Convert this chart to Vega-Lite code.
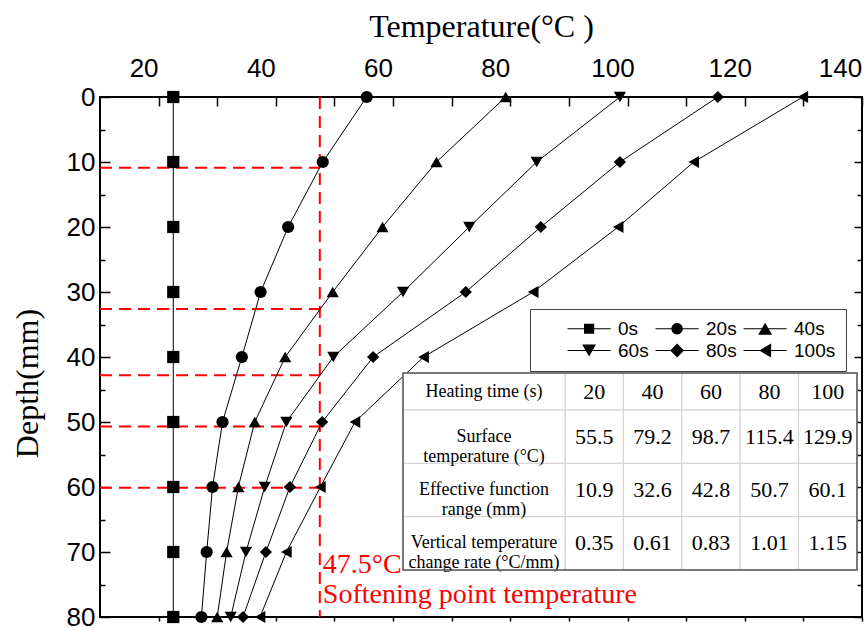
{
  "$schema": "https://vega.github.io/schema/vega-lite/v6.json",
  "width": 762,
  "height": 520,
  "autosize": {"type": "none"},
  "padding": {"left": 100, "top": 97, "right": 2, "bottom": 11},
  "background": "white",
  "config": {
    "view": {"stroke": "black", "strokeWidth": 2},
    "axis": {"grid": false}
  },
  "datasets": {
    "profiles": [
      {"time": "0s", "depth": 0, "T": 22.5}, {"time": "0s", "depth": 10, "T": 22.5}, {"time": "0s", "depth": 20, "T": 22.5},
      {"time": "0s", "depth": 30, "T": 22.5}, {"time": "0s", "depth": 40, "T": 22.5}, {"time": "0s", "depth": 50, "T": 22.5},
      {"time": "0s", "depth": 60, "T": 22.5}, {"time": "0s", "depth": 70, "T": 22.5}, {"time": "0s", "depth": 80, "T": 22.5},
      {"time": "20s", "depth": 0, "T": 55.5}, {"time": "20s", "depth": 10, "T": 48.0}, {"time": "20s", "depth": 20, "T": 42.1},
      {"time": "20s", "depth": 30, "T": 37.4}, {"time": "20s", "depth": 40, "T": 34.2}, {"time": "20s", "depth": 50, "T": 30.9},
      {"time": "20s", "depth": 60, "T": 29.2}, {"time": "20s", "depth": 70, "T": 28.2}, {"time": "20s", "depth": 80, "T": 27.3},
      {"time": "40s", "depth": 0, "T": 79.2}, {"time": "40s", "depth": 10, "T": 67.4}, {"time": "40s", "depth": 20, "T": 58.2},
      {"time": "40s", "depth": 30, "T": 49.7}, {"time": "40s", "depth": 40, "T": 41.6}, {"time": "40s", "depth": 50, "T": 36.4},
      {"time": "40s", "depth": 60, "T": 33.6}, {"time": "40s", "depth": 70, "T": 31.6}, {"time": "40s", "depth": 80, "T": 30.0},
      {"time": "60s", "depth": 0, "T": 98.7}, {"time": "60s", "depth": 10, "T": 84.5}, {"time": "60s", "depth": 20, "T": 73.0},
      {"time": "60s", "depth": 30, "T": 61.7}, {"time": "60s", "depth": 40, "T": 49.8}, {"time": "60s", "depth": 50, "T": 41.8},
      {"time": "60s", "depth": 60, "T": 38.1}, {"time": "60s", "depth": 70, "T": 34.9}, {"time": "60s", "depth": 80, "T": 32.3},
      {"time": "80s", "depth": 0, "T": 115.4}, {"time": "80s", "depth": 10, "T": 98.7}, {"time": "80s", "depth": 20, "T": 85.2},
      {"time": "80s", "depth": 30, "T": 72.4}, {"time": "80s", "depth": 40, "T": 56.6}, {"time": "80s", "depth": 50, "T": 47.9},
      {"time": "80s", "depth": 60, "T": 42.4}, {"time": "80s", "depth": 70, "T": 38.3}, {"time": "80s", "depth": 80, "T": 34.4},
      {"time": "100s", "depth": 0, "T": 129.9}, {"time": "100s", "depth": 10, "T": 111.3}, {"time": "100s", "depth": 20, "T": 98.4},
      {"time": "100s", "depth": 30, "T": 83.9}, {"time": "100s", "depth": 40, "T": 65.2}, {"time": "100s", "depth": 50, "T": 53.5},
      {"time": "100s", "depth": 60, "T": 47.6}, {"time": "100s", "depth": 70, "T": 41.8}, {"time": "100s", "depth": 80, "T": 37.3}
    ],
    "summary": [
      {"time": 20, "surface": 55.5, "range": 10.9, "rate": 0.35},
      {"time": 40, "surface": 79.2, "range": 32.6, "rate": 0.61},
      {"time": 60, "surface": 98.7, "range": 42.8, "rate": 0.83},
      {"time": 80, "surface": 115.4, "range": 50.7, "rate": 1.01},
      {"time": 100, "surface": 129.9, "range": 60.1, "rate": 1.15}
    ],
    "softening": [
      {"T": 47.5, "label": ["47.5°C", "Softening point temperature"]}
    ],
    "rowNames": [
      {"metric": "time", "name": ["Heating time (s)"]},
      {"metric": "surface", "name": ["Surface", "temperature (°C)"]},
      {"metric": "range", "name": ["Effective function", "range (mm)"]},
      {"metric": "rate", "name": ["Vertical  temperature", "change rate (°C/mm)"]}
    ],
    "tableFrame": [
      {"left": 0, "right": 1, "top": 0, "bottom": 1}
    ]
  },
  "layer": [
    {
      "layer": [
        {
          "data": {"name": "softening"},
          "mark": {"type": "rule", "color": "#ff0000", "strokeWidth": 2, "strokeDash": [12, 7]},
          "encoding": {
            "x": {"field": "T", "type": "quantitative", "scale": {"domain": [10, 140], "nice": false, "zero": false}, "axis": null}
          }
        },
        {
          "data": {"name": "summary"},
          "mark": {"type": "rule", "color": "#ff0000", "strokeWidth": 2, "strokeDash": [12, 7]},
          "encoding": {
            "y": {"field": "range", "type": "quantitative", "scale": {"domain": [0, 80], "reverse": true, "nice": false, "zero": false}, "axis": null},
            "x": {"datum": 10, "type": "quantitative", "scale": {"domain": [10, 140], "nice": false, "zero": false}, "axis": null},
            "x2": {"datum": 47.5}
          }
        },
        {
          "data": {"name": "softening"},
          "mark": {"type": "text", "color": "#ff0000", "font": "Liberation Serif", "fontSize": 28, "align": "left", "baseline": "bottom", "dx": 3, "dy": -38, "lineHeight": 30},
          "encoding": {
            "x": {"field": "T", "type": "quantitative", "scale": {"domain": [10, 140], "nice": false, "zero": false}, "axis": null},
            "y": {"datum": 80, "type": "quantitative", "scale": {"domain": [0, 80], "reverse": true, "nice": false, "zero": false}, "axis": null},
            "text": {"field": "label"}
          }
        },
        {
          "data": {"name": "profiles"},
          "mark": {"type": "line", "color": "black", "strokeWidth": 1},
          "encoding": {
            "x": {
              "field": "T", "type": "quantitative",
              "scale": {"domain": [10, 140], "nice": false, "zero": false},
              "axis": {
                "orient": "bottom", "values": [20, 30, 40, 50, 60, 70, 80, 90, 100, 110, 120, 130, 140],
                "labels": false, "domain": false, "tickColor": "black", "tickWidth": 1.5, "tickSize": 4, "title": null
              }
            },
            "y": {
              "field": "depth", "type": "quantitative",
              "scale": {"domain": [0, 80], "reverse": true, "nice": false, "zero": false},
              "axis": {
                "orient": "right", "values": [0, 5, 10, 15, 20, 25, 30, 35, 40, 45, 50, 55, 60, 65, 70, 75, 80],
                "labels": false, "domain": false, "tickColor": "black", "tickWidth": 1.5,
                "tickSize": {"condition": {"test": "datum.value % 10 !== 0", "value": -5}, "value": -8},
                "title": null
              }
            },
            "detail": {"field": "time"},
            "order": {"field": "depth", "type": "quantitative"}
          }
        },
        {
          "data": {"name": "profiles"},
          "mark": {"type": "point", "filled": true, "color": "black", "size": 150, "opacity": 1, "strokeWidth": 0},
          "encoding": {
            "x": {
              "field": "T", "type": "quantitative",
              "scale": {"domain": [10, 140], "nice": false, "zero": false},
              "axis": {
                "orient": "top", "values": [20, 30, 40, 50, 60, 70, 80, 90, 100, 110, 120, 130, 140],
                "labelExpr": "datum.value % 20 === 0 ? datum.label : ''",
                "domain": false, "tickColor": "black", "tickWidth": 1.5, "tickSize": -9,
                "labelFont": "Liberation Sans", "labelFontSize": 26, "labelColor": "black",
                "labelPadding": 25,
                "labelOffset": {"condition": {"test": "datum.value === 140", "value": -22}, "value": -15},
                "labelFlush": false, "labelOverlap": false,
                "title": "Temperature(°C )", "titleFont": "Liberation Serif", "titleFontSize": 32,
                "titleFontWeight": "normal", "titleColor": "black", "titleY": -54
              }
            },
            "y": {
              "field": "depth", "type": "quantitative",
              "scale": {"domain": [0, 80], "reverse": true, "nice": false, "zero": false},
              "axis": {
                "orient": "left", "values": [0, 5, 10, 15, 20, 25, 30, 35, 40, 45, 50, 55, 60, 65, 70, 75, 80],
                "labelExpr": "datum.value % 10 === 0 ? datum.label : ''",
                "domain": false, "tickColor": "black", "tickWidth": 1.5,
                "tickSize": {"condition": {"test": "datum.value % 10 !== 0", "value": -5}, "value": -10},
                "labelFont": "Liberation Sans", "labelFontSize": 26, "labelColor": "black",
                "labelPadding": 15, "labelOverlap": false, "labelFlush": false,
                "title": "Depth(mm)", "titleFont": "Liberation Serif", "titleFontSize": 32,
                "titleFontWeight": "normal", "titleColor": "black",
                "titleX": -73, "titleY": 286, "titleAngle": -90, "titleAlign": "center", "titleBaseline": "middle"
              }
            },
            "shape": {
              "field": "time", "type": "nominal",
              "scale": {
                "domain": ["0s", "20s", "40s", "60s", "80s", "100s"],
                "range": ["square", "circle", "triangle-up", "triangle-down", "diamond", "triangle-left"]
              },
              "legend": null
            }
          }
        },
        {
          "data": {"name": "profiles"},
          "transform": [{"filter": "false"}],
          "mark": {"type": "point", "filled": true, "color": "black", "opacity": 1, "strokeWidth": 0},
          "encoding": {
            "x": {"field": "T", "type": "quantitative", "scale": {"domain": [10, 140], "nice": false, "zero": false}, "axis": null},
            "y": {"field": "depth", "type": "quantitative", "scale": {"domain": [0, 80], "reverse": true, "nice": false, "zero": false}, "axis": null},
            "shape": {
              "field": "time", "type": "nominal",
              "scale": {
                "domain": ["0s", "20s", "40s", "60s", "80s", "100s"],
                "range": [
                  "M-1,-0.09H6.2V0.09H-1Z M1.75,-0.85H3.45V0.85H1.75Z",
                  "M-1,-0.09H6.2V0.09H-1Z M3.55,0A0.95,0.95 0 1,1 1.65,0A0.95,0.95 0 1,1 3.55,0Z",
                  "M-1,-0.09H6.2V0.09H-1Z M2.6,-1L3.75,1L1.45,1Z",
                  "M-1,-0.09H6.2V0.09H-1Z M2.6,1L1.45,-1L3.75,-1Z",
                  "M-1,-0.09H6.2V0.09H-1Z M2.6,-1.15L3.75,0L2.6,1.15L1.45,0Z",
                  "M-1,-0.09H6.2V0.09H-1Z M1.6,0L3.6,-1.15L3.6,1.15Z"
                ]
              },
              "legend": {
                "orient": "none", "legendX": 430, "legendY": 212, "columns": 3, "direction": "horizontal",
                "gridAlign": "each",
                "title": " ", "titleOrient": "left", "titleFontSize": 1, "titlePadding": 24,
                "symbolSize": 144, "symbolFillColor": "black", "symbolStrokeWidth": 0,
                "labelFont": "Liberation Sans", "labelFontSize": 19, "labelColor": "black", "labelOffset": 35,
                "columnPadding": 3, "rowPadding": 2, "padding": 10,
                "strokeColor": "#444444", "fillColor": "white"
              }
            }
          }
        }
      ],
      "resolve": {
        "scale": {"shape": "independent"},
        "axis": {"x": "independent", "y": "independent"}
      }
    },
    {
      "data": {"name": "summary"},
      "transform": [{"fold": ["time"], "as": ["metric", "v"]}],
      "encoding": {
        "x": {"field": "time", "type": "ordinal", "axis": null,
              "scale": {"type": "band", "domain": [20, 40, 60, 80, 100], "range": [465, 757], "paddingInner": 0, "paddingOuter": 0}},
        "y": {"field": "metric", "type": "nominal", "axis": null,
              "scale": {"type": "band", "domain": ["time"], "range": [276, 313], "paddingInner": 0, "paddingOuter": 0}}
      },
      "layer": [
        {"mark": {"type": "rect", "fill": "white", "stroke": "#d0d0d0", "strokeWidth": 1}},
        {"mark": {"type": "text", "font": "Liberation Serif", "fontSize": 22, "color": "black"},
         "encoding": {"text": {"field": "v", "type": "quantitative"}}}
      ]
    },
    {
      "data": {"name": "summary"},
      "transform": [{"fold": ["surface", "range", "rate"], "as": ["metric", "v"]}],
      "encoding": {
        "x": {"field": "time", "type": "ordinal", "axis": null,
              "scale": {"type": "band", "domain": [20, 40, 60, 80, 100], "range": [465, 757], "paddingInner": 0, "paddingOuter": 0}},
        "y": {"field": "metric", "type": "nominal", "axis": null,
              "scale": {"type": "band", "domain": ["surface", "range", "rate"], "range": [313, 473], "paddingInner": 0, "paddingOuter": 0}}
      },
      "layer": [
        {"mark": {"type": "rect", "fill": "white", "stroke": "#d0d0d0", "strokeWidth": 1}},
        {"mark": {"type": "text", "font": "Liberation Serif", "fontSize": 22, "color": "black"},
         "encoding": {"text": {"field": "v", "type": "quantitative"}}}
      ]
    },
    {
      "data": {"name": "rowNames"},
      "transform": [{"filter": "datum.metric === 'time'"}, {"fold": ["name"], "as": ["column", "lines"]}],
      "encoding": {
        "x": {"field": "column", "type": "nominal", "axis": null,
              "scale": {"type": "band", "domain": ["name"], "range": [303, 465], "paddingInner": 0, "paddingOuter": 0}},
        "y": {"field": "metric", "type": "nominal", "axis": null,
              "scale": {"type": "band", "domain": ["time"], "range": [276, 313], "paddingInner": 0, "paddingOuter": 0}}
      },
      "layer": [
        {"mark": {"type": "rect", "fill": "white", "stroke": "#d0d0d0", "strokeWidth": 1}},
        {"mark": {"type": "text", "font": "Liberation Serif", "fontSize": 18, "color": "black", "lineHeight": 20},
         "encoding": {"text": {"field": "lines"}}}
      ]
    },
    {
      "data": {"name": "rowNames"},
      "transform": [{"filter": "datum.metric !== 'time'"}, {"fold": ["name"], "as": ["column", "lines"]}],
      "encoding": {
        "x": {"field": "column", "type": "nominal", "axis": null,
              "scale": {"type": "band", "domain": ["name"], "range": [303, 465], "paddingInner": 0, "paddingOuter": 0}},
        "y": {"field": "metric", "type": "nominal", "axis": null,
              "scale": {"type": "band", "domain": ["surface", "range", "rate"], "range": [313, 473], "paddingInner": 0, "paddingOuter": 0}}
      },
      "layer": [
        {"mark": {"type": "rect", "fill": "white", "stroke": "#d0d0d0", "strokeWidth": 1}},
        {"mark": {"type": "text", "font": "Liberation Serif", "fontSize": 18, "color": "black", "lineHeight": 20},
         "encoding": {"text": {"field": "lines"}}}
      ]
    },
    {
      "data": {"name": "tableFrame"},
      "mark": {"type": "rect", "fill": null, "stroke": "#555555", "strokeWidth": 1.5},
      "encoding": {
        "x": {"field": "left", "type": "quantitative", "axis": null, "scale": {"domain": [0, 1], "range": [303, 757], "nice": false, "zero": false}},
        "x2": {"field": "right"},
        "y": {"field": "top", "type": "quantitative", "axis": null, "scale": {"domain": [0, 1], "range": [276, 473], "nice": false, "zero": false}},
        "y2": {"field": "bottom"}
      }
    }
  ],
  "resolve": {
    "scale": {"x": "independent", "y": "independent"},
    "axis": {"x": "independent", "y": "independent"}
  }
}
